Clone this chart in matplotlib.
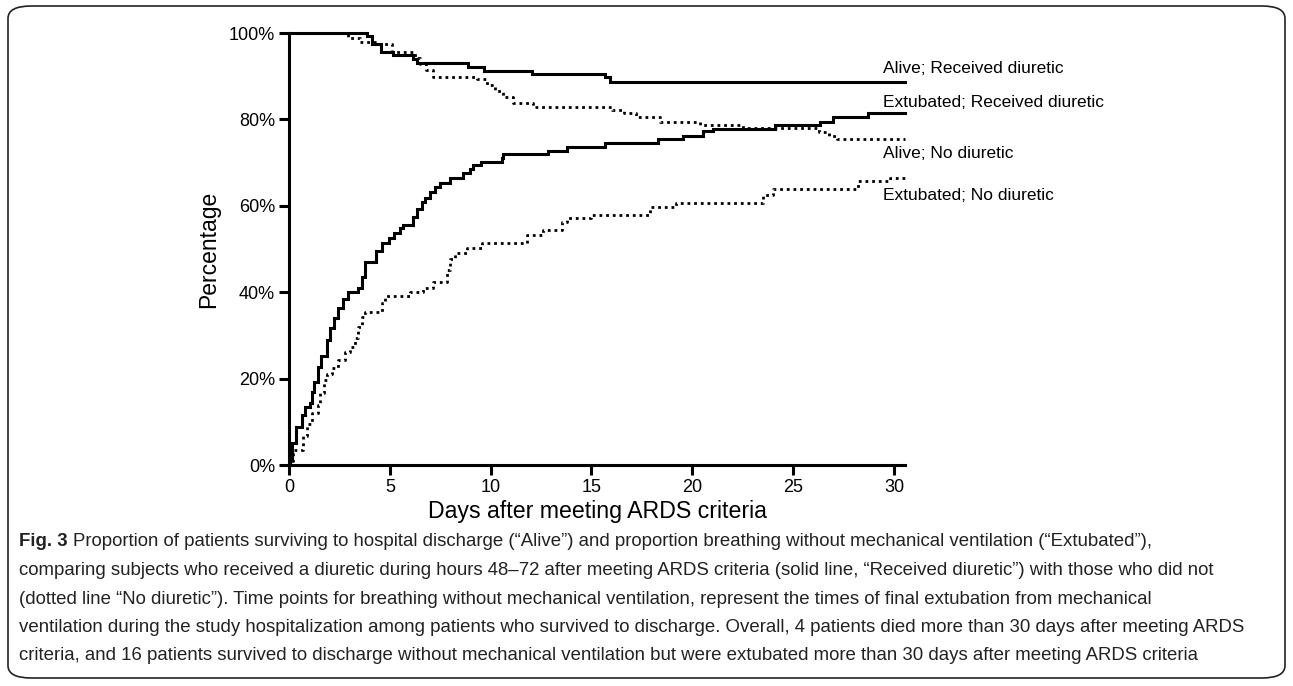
import matplotlib
matplotlib.use("Agg")
import matplotlib.pyplot as plt
from matplotlib.patches import FancyBboxPatch

plt.rcParams['font.family'] = ['Liberation Sans', 'DejaVu Sans']

# curves: day of each step and percentage after it
alive_diur_t = [0, 3.88, 4.13, 4.54, 5.17, 6.16, 6.36, 8.86, 9.67, 12.06, 15.67, 15.91]
alive_diur_p = [100, 99.3, 97.5, 95.7, 94.9, 94.0, 93.1, 92.2, 91.3, 90.5, 89.7, 88.7]

alive_nodiur_t = [0, 2.94, 3.5, 4.4, 5.1, 6.26, 6.5, 6.8, 7.16, 9.3, 9.8, 10.2, 10.6, 11.1,
                  12.1, 16.0, 16.6, 17.2, 18.4, 20.4, 22.5, 26.3, 26.8, 27.2]
alive_nodiur_p = [100, 98.8, 98.0, 97.5, 95.7, 94.3, 92.9, 91.4, 89.9, 89.3, 88.0, 86.6, 85.2, 83.9,
                  82.9, 82.1, 81.4, 80.6, 79.5, 78.7, 77.9, 77.0, 76.2, 75.5]

extub_diur_t = [0, 0.05, 0.13, 0.35, 0.63, 0.79, 1.04, 1.15, 1.26, 1.45,
                1.57, 1.87, 2.03, 2.25, 2.45, 2.69, 2.91, 3.44, 3.6, 3.77,
                4.3, 4.6, 4.95, 5.2, 5.5, 5.67, 6.16, 6.33, 6.58, 6.74,
                6.99, 7.24, 7.49, 7.98, 8.64, 8.97, 9.14, 9.5, 10.55, 10.63,
                12.86, 13.77, 15.67, 18.31, 19.55, 20.54, 21.04, 24.1, 26.33, 26.99,
                28.72]
extub_diur_p = [0, 1.6, 5.0, 8.9, 11.6, 13.5, 14.3, 17.0, 19.3, 22.8,
                25.2, 28.9, 31.6, 34.0, 36.3, 38.4, 40.1, 41.0, 43.6, 46.9,
                49.6, 51.3, 52.6, 53.6, 54.8, 55.6, 57.5, 59.2, 60.8, 61.7,
                63.3, 64.4, 65.2, 66.5, 67.7, 68.6, 69.4, 70.2, 71.1, 71.9,
                72.8, 73.7, 74.6, 75.4, 76.2, 77.2, 77.8, 78.7, 79.5, 80.6,
                81.4]

extub_nodiur_t = [0, 0.05, 0.21, 0.71, 0.88, 1.12, 1.45, 1.54, 1.75, 1.9,
                  2.11, 2.45, 2.78, 3.02, 3.27, 3.44, 3.6, 3.77, 4.6, 4.76,
                  6.0, 6.66, 7.16, 7.82, 7.98, 8.23, 8.81, 9.55, 11.78, 12.6,
                  13.52, 13.77, 15.0, 17.9, 19.2, 23.5, 24.0, 28.2, 29.8]
extub_nodiur_p = [0, 1.0, 3.5, 6.6, 9.6, 12.0, 13.9, 16.6, 19.7, 21.0,
                  22.4, 24.3, 26.2, 27.4, 29.3, 32.0, 34.3, 35.5, 37.4, 39.2,
                  40.1, 40.9, 42.4, 45.1, 47.8, 49.0, 50.2, 51.3, 53.2, 54.4,
                  56.3, 57.1, 57.9, 59.8, 60.6, 62.5, 63.8, 65.8, 66.5]

curve_labels = ["Alive; Received diuretic", "Extubated; Received diuretic",
                "Alive; No diuretic", "Extubated; No diuretic"]
label_y = [91.7, 84.0, 72.2, 62.5]

x_ticks = [0, 5, 10, 15, 20, 25, 30]
y_ticks = [0, 20, 40, 60, 80, 100]
x_end = 30.55

caption_lines = [
    "Proportion of patients surviving to hospital discharge (\u201cAlive\u201d) and proportion breathing without mechanical ventilation (\u201cExtubated\u201d),",
    "comparing subjects who received a diuretic during hours 48\u201372 after meeting ARDS criteria (solid line, \u201cReceived diuretic\u201d) with those who did not",
    "(dotted line \u201cNo diuretic\u201d). Time points for breathing without mechanical ventilation, represent the times of final extubation from mechanical",
    "ventilation during the study hospitalization among patients who survived to discharge. Overall, 4 patients died more than 30 days after meeting ARDS",
    "criteria, and 16 patients survived to discharge without mechanical ventilation but were extubated more than 30 days after meeting ARDS criteria",
]

W, H = 1293, 686
fig = plt.figure(figsize=(W / 100, H / 100), dpi=100)

# rounded frame around figure + caption
frame = FancyBboxPatch((8 / W, 8 / H), 1277 / W, 672 / H,
                       boxstyle="round,pad=0,rounding_size=0.018",
                       transform=fig.transFigure, fill=False, lw=1.2, ec="#222222")
fig.patches.append(frame)

ax = fig.add_axes([289 / W, 1 - 465 / H, 616 / W, 432 / H])

solid = dict(color="black", lw=2.2, where="post", clip_on=False, solid_joinstyle="miter")
dotted = dict(color="black", lw=2.0, where="post", clip_on=False, linestyle=(0, (1, 1.4)))

ax.step(alive_diur_t + [x_end], alive_diur_p + [alive_diur_p[-1]], **solid)
ax.step(extub_diur_t + [x_end], extub_diur_p + [extub_diur_p[-1]], **solid)
ax.step(alive_nodiur_t + [x_end], alive_nodiur_p + [alive_nodiur_p[-1]], **dotted)
ax.step(extub_nodiur_t + [x_end], extub_nodiur_p + [extub_nodiur_p[-1]], **dotted)

for lab, yy in zip(curve_labels, label_y):
    ax.text(29.45, yy, lab, va="center", ha="left", fontsize=12.5, clip_on=False)

ax.set_xlim(0, x_end)
ax.set_ylim(0, 100)
ax.set_xticks(x_ticks)
ax.set_yticks(y_ticks)
ax.set_yticklabels([f"{v}%" for v in y_ticks])
ax.tick_params(direction="out", length=7, width=2.2, labelsize=13, pad=3)
for s in ["top", "right"]:
    ax.spines[s].set_visible(False)
for s in ["left", "bottom"]:
    ax.spines[s].set_linewidth(2.2)
ax.set_xlabel("Days after meeting ARDS criteria", fontsize=16.7, labelpad=3)
ax.set_ylabel("Percentage", fontsize=16.5, labelpad=6)

# caption, first word in bold
cap_x = 19 / W
cap_y0 = 542
cap_dy = 28.5
cap_fs = 13.4
fig_lbl = fig.text(cap_x, 1 - cap_y0 / H, "Fig. 3", fontsize=cap_fs, fontweight="bold",
                   va="center", ha="left", color="#222222")
fig.canvas.draw()
bb = fig_lbl.get_window_extent()
for i, line in enumerate(caption_lines):
    x0 = (bb.x1 + 5) / W if i == 0 else cap_x
    fig.text(x0, 1 - (cap_y0 + i * cap_dy) / H, line, fontsize=cap_fs,
             va="center", ha="left", color="#222222")

fig.savefig("out.png", dpi=100)
